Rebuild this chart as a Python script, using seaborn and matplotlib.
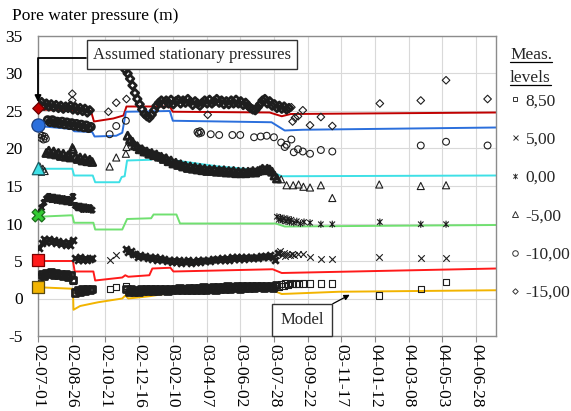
import pandas as pd
import matplotlib
matplotlib.use("Agg")
import matplotlib.pyplot as plt
import matplotlib.dates as mdates
from matplotlib.lines import Line2D
from matplotlib.path import Path
import seaborn as sns

START = pd.Timestamp("2002-07-01")
STEP = 4            # logger interval (days) in the dense parts of the record
END_DAY = 761

# ---- model curves (days after 2002-07-01, pressure in m) ----
model_m15_days = [0, 88, 93, 125, 142, 147, 219, 224, 385, 405, 420, 762]
model_m15_vals = [25.2, 25.0, 23.6, 24.0, 24.4, 25.6, 25.6, 24.9, 24.8, 24.3, 24.6, 24.8]
model_m10_days = [0, 57, 60, 90, 94, 130, 140, 146, 219, 224, 388, 410, 440, 762]
model_m10_vals = [23.0, 22.6, 22.3, 22.2, 21.6, 21.7, 22.1, 24.9, 25.0, 23.7, 23.5, 22.4, 22.5, 22.8]
model_m5_days = [0, 57, 60, 91, 95, 135, 139, 144, 148, 188, 192, 300, 385, 405, 762]
model_m5_vals = [17.3, 17.3, 16.4, 16.4, 15.5, 15.5, 16.2, 16.3, 18.4, 18.5, 18.8, 17.6, 17.0, 16.3, 16.4]
model_0_days = [0, 57, 60, 92, 95, 140, 148, 188, 192, 230, 236, 395, 410, 762]
model_0_vals = [10.9, 11.1, 10.1, 10.1, 9.2, 9.2, 10.6, 10.7, 11.2, 11.2, 10.0, 10.0, 9.6, 9.8]
model_5_days = [0, 58, 61, 92, 95, 140, 145, 150, 185, 190, 220, 225, 390, 405, 762]
model_5_vals = [5.0, 5.0, 3.6, 3.6, 2.4, 2.8, 3.1, 2.9, 3.1, 4.0, 4.1, 3.6, 3.9, 3.4, 4.0]
model_85_days = [0, 58, 59, 70, 100, 140, 145, 150, 185, 225, 390, 405, 500, 762]
model_85_vals = [1.5, 1.3, -1.5, -1.0, -0.5, 0.0, 0.4, 0.0, 0.3, 0.8, 1.1, 0.6, 0.9, 1.1]

# assumed stationary pressures at the start (-15, -10, -5, 0, 5, 8.5)
start_vals = [25.4, 23.1, 17.4, 11.1, 5.2, 1.6]

# ---- measurements ----
# level -15,00
m15_run_a = [25.9, 26.2, 25.7, 26.0, 25.6, 25.9, 25.5, 25.8, 25.4, 25.7, 25.3, 25.6, 25.4, 25.7,
             25.2, 25.5, 25.1, 25.4, 25.0, 25.3, 24.8, 25.1]
m15_run_b = [30.5, 30.0, 29.3, 28.4, 27.4, 26.6, 25.9, 25.2, 24.6, 24.3, 24.1, 24.5, 25.1, 25.7,
             26.1, 26.4, 25.9, 26.4, 26.0, 26.5, 25.9, 26.3, 26.5, 26.0, 26.4, 26.1, 26.6, 26.2,
             25.8, 26.3, 26.0, 25.7, 26.1, 26.4, 26.0, 26.5, 26.0, 26.3, 26.6, 26.1, 26.4, 25.9,
             26.3, 25.9, 26.4, 26.0, 26.5, 26.0, 26.3, 25.8, 26.1, 25.7, 25.4, 25.2, 25.1, 25.5,
             25.9, 26.4, 26.6, 26.0, 26.3, 25.7, 25.9, 25.4, 25.7, 25.3, 25.6, 25.2, 25.4]
m15_days = [57, 57, 117, 130, 147, 282, 421, 423, 427, 432, 440, 452, 470, 489, 568, 636, 678, 747]
m15_vals = [27.3, 26.4, 24.9, 26.1, 26.6, 24.5, 25.5, 23.6, 24.1, 24.3, 25.1, 23.1, 24.2, 23.0,
            26.0, 26.4, 29.1, 26.6]

# level -10,00
m10_run_a = [23.8, 23.5, 23.8, 23.4, 23.6, 23.3, 23.6, 23.2, 23.5, 23.1, 23.4, 23.0, 23.3, 22.9,
             23.2, 22.8, 23.1, 22.7, 22.9]
m10_days = [3, 5, 7, 9, 11, 13, 119, 130, 146, 265, 267, 269, 271, 287, 301, 323, 336, 359, 370,
            380, 392, 404, 410, 413, 421, 425, 432, 440, 452, 470, 489, 636, 678, 747]
m10_vals = [21.9, 21.4, 21.7, 21.2, 21.6, 21.3, 21.9, 23.0, 23.7, 22.2, 22.0, 22.3, 22.1, 21.9,
            21.8, 21.8, 21.8, 21.5, 21.6, 21.7, 21.5, 20.8, 20.2, 20.5, 21.2, 19.5, 19.9, 19.6,
            19.3, 19.8, 19.6, 20.4, 20.9, 20.4]

# level -5,00
m5_run_a = [19.4, 19.7, 19.3, 19.6, 19.2, 19.4, 19.0, 19.3, 18.9, 19.1, 18.8, 19.9, 18.9, 18.6,
            18.8, 18.4, 18.7, 18.3, 18.5, 18.2]
m5_run_b = [21.7, 21.2, 20.9, 20.4, 20.3, 19.9, 19.9, 19.6, 19.6, 19.3,
            19.4, 19.1, 19.2, 18.9, 18.9, 18.6, 18.7, 18.3, 18.4, 18.0,
            18.1, 17.8, 17.9, 17.6, 17.7, 17.4, 17.6, 17.3, 17.5, 17.2,
            17.4, 17.1, 17.3, 17.0, 17.2, 17.0, 17.2, 16.9, 17.1, 16.9,
            17.1, 16.8, 17.0, 16.8, 17.0, 16.7, 16.9, 16.7, 16.9, 16.7,
            16.9, 16.8, 17.0, 16.8, 17.0, 17.1, 17.3, 17.1, 17.3, 17.2,
            16.9, 16.4, 16.0]
m5_days = [3, 5, 8, 11, 57, 119, 130, 146, 147, 404, 413, 424, 433, 441, 452, 470, 489, 567, 636, 678]
m5_vals = [17.6, 16.9, 17.3, 17.0, 20.2, 17.6, 18.8, 19.3, 20.2, 15.9, 15.1, 15.1, 15.2, 14.9,
           14.8, 15.1, 13.4, 15.2, 15.0, 15.1]

# level 0,00
l0_run_a = [11.4, 12.1, 12.8, 13.3, 13.6, 13.2, 13.5, 13.1, 13.4, 13.0, 13.3, 12.9, 13.2, 12.8,
            13.6, 12.4, 12.1, 12.3, 11.9, 12.2, 11.9, 12.1, 11.8]
l0_days = [397, 400, 403, 406, 409, 412, 415, 418, 421, 425, 430, 436, 442, 452, 470, 489, 568, 636, 678]
l0_vals = [10.9, 10.5, 10.8, 10.4, 10.7, 10.3, 10.6, 10.2, 10.5, 10.1, 10.3, 10.0, 10.2, 10.1,
           9.9, 9.9, 10.2, 9.9, 9.9]

# level 5,00
l5_run_a = [6.8, 7.4, 7.9, 7.5, 7.9, 7.6, 7.8, 7.4, 7.7, 7.3, 7.6, 7.2, 7.5, 7.1, 7.8, 5.4, 5.2,
            5.5, 5.1, 5.4, 5.1, 5.3, 5.4]
l5_run_b = [6.6, 6.2, 6.4, 6.0, 5.9, 5.6, 5.8, 5.5, 5.7, 5.4,
            5.6, 5.3, 5.5, 5.2, 5.4, 5.1, 5.3, 5.0, 5.2, 4.9,
            5.1, 4.9, 5.1, 4.8, 5.0, 4.9, 5.1, 4.8, 5.0, 4.9,
            5.1, 4.9, 5.2, 5.0, 5.2, 5.0, 5.3, 5.1, 5.3, 5.1,
            5.4, 5.2, 5.4, 5.2, 5.5, 5.3, 5.5, 5.3, 5.5, 5.3,
            5.6, 5.4, 5.6, 5.4, 5.6, 5.4, 5.7, 5.5, 5.7, 5.5,
            5.8, 5.6, 5.1, 6.1]
l5_days = [119, 130, 402, 405, 408, 411, 414, 418, 422, 426, 432, 440, 452, 470, 489, 567, 636, 678]
l5_vals = [5.2, 5.8, 6.3, 5.8, 6.1, 5.7, 6.0, 5.8, 6.0, 5.8, 5.9, 6.0, 5.6, 5.3, 5.3, 5.6, 5.4, 5.4]

# level 8,50
l85_run_a = [2.8, 3.2, 3.0, 3.4, 3.3, 3.5, 3.2, 3.4, 3.1, 3.3, 3.0, 3.2, 2.9, 3.1, 2.5, 0.8, 1.1,
             0.9, 1.2, 1.0, 1.3, 1.1, 1.3]
l85_run_b = [1.3, 0.9, 1.2, 0.9, 1.1, 0.9, 1.2, 1.0, 1.2, 1.0,
             1.3, 1.0, 1.2, 1.0, 1.3, 1.1, 1.3, 1.0, 1.3, 1.1,
             1.3, 1.1, 1.4, 1.1, 1.3, 1.2, 1.4, 1.1, 1.4, 1.2,
             1.4, 1.2, 1.5, 1.2, 1.4, 1.3, 1.5, 1.2, 1.5, 1.3,
             1.5, 1.3, 1.6, 1.3, 1.5, 1.4, 1.6, 1.3, 1.6, 1.4,
             1.6, 1.4, 1.7, 1.4, 1.6, 1.5, 1.7, 1.4, 1.7, 1.5,
             1.6, 1.4, 1.8]
l85_days = [58, 119, 130, 146, 401, 404, 408, 411, 415, 419, 423, 428, 433, 440, 452, 470, 489,
            567, 636, 678]
l85_vals = [2.4, 1.3, 1.5, 1.7, 1.6, 1.9, 1.7, 2.0, 1.8, 2.1, 1.9, 2.0, 1.9, 2.0, 2.0, 2.0, 2.0,
            0.4, 1.3, 2.2]

level_labels = ["8,50", "5,00", "0,00", "-5,00", "-10,00", "-15,00"]


def dates(days):
    return START + pd.to_timedelta(days, unit="D")


def logged(runs):
    # continuous logger runs, one reading every STEP days from the run's start day
    parts = []
    for start_day, values in runs:
        idx = pd.date_range(START + pd.Timedelta(days=start_day), periods=len(values),
                            freq=f"{STEP}D")
        parts.append(pd.Series(values, index=idx))
    return pd.concat(parts)


ASTER = Path([(-1, -1), (1, 1), (-1, 1), (1, -1), (0, -1.3), (0, 1.3)],
             [Path.MOVETO, Path.LINETO] * 3)

# (logger runs, manual readings, marker, size, filled, legend marker size)
meas = [
    (logged([(2, l85_run_a), (147, l85_run_b)]), pd.Series(l85_vals, index=dates(l85_days)), "s", 20, True, 3.4),
    (logged([(2, l5_run_a), (146, l5_run_b)]), pd.Series(l5_vals, index=dates(l5_days)), "x", 22, False, 3.6),
    (logged([(2, l0_run_a)]), pd.Series(l0_vals, index=dates(l0_days)), ASTER, 26, True, 4.0),
    (logged([(14, m5_run_a), (149, m5_run_b)]), pd.Series(m5_vals, index=dates(m5_days)), "^", 26, True, 4.0),
    (logged([(16, m10_run_a)]), pd.Series(m10_vals, index=dates(m10_days)), "o", 24, True, 4.0),
    (logged([(2, m15_run_a), (145, m15_run_b)]), pd.Series(m15_vals, index=dates(m15_days)), "D", 15, True, 2.8),
]

models = [
    (model_m15_days, model_m15_vals, "#c00000"),
    (model_m10_days, model_m10_vals, "#2b6fdc"),
    (model_m5_days, model_m5_vals, "#3ee0e6"),
    (model_0_days, model_0_vals, "#70e070"),
    (model_5_days, model_5_vals, "#ff1a1a"),
    (model_85_days, model_85_vals, "#f2b400"),
]

# start markers: marker, size, face, edge (same order as start_vals)
start_style = [("D", 34, "#c00000", "#6a0000"), ("o", 90, "#2b6fdc", "#1a3f80"),
               ("^", 80, "#3ee0e6", "#1f5f66"), ("X", 85, "#33cc33", "#1a6a1a"),
               ("s", 85, "#ff1a1a", "#7a0000"), ("s", 85, "#f2b400", "#5a4a10")]

sns.set_theme(style="whitegrid")
plt.rcParams["font.family"] = ["Liberation Serif", "DejaVu Serif"]
plt.rcParams["font.size"] = 12.5
plt.rcParams["axes.unicode_minus"] = False

fig = plt.figure(figsize=(5.71, 4.11), dpi=100)
ax = fig.add_axes([38 / 571, 1 - 336 / 411, 458 / 571, 300 / 411])

for days, vals, col in models:
    sns.lineplot(x=dates(days), y=vals, color=col, linewidth=1.4, ax=ax,
                 estimator=None, sort=False, zorder=2)

for runs, manual, mk, size, filled, _ in meas:
    for ser, lw in ((runs, 2.0), (manual, 0.8)):
        if filled:
            kw = dict(facecolors="none", edgecolor="#1e1e1e")
        else:
            kw = dict(color="#1e1e1e", edgecolor=None)
        sns.scatterplot(x=ser.index, y=ser.values, marker=mk, s=size, linewidth=lw,
                        ax=ax, zorder=3, **kw)

for v, (mk, size, fc, ec) in zip(start_vals, start_style):
    sns.scatterplot(x=[START], y=[v], marker=mk, s=size, color=fc, edgecolor=ec,
                    linewidth=0.9, ax=ax, zorder=6, clip_on=False)

ax.set_xlim(START, START + pd.Timedelta(days=END_DAY))
ax.set_ylim(-5, 35)
ax.set_yticks(range(-5, 36, 5))
ax.set_xticks(pd.date_range("2002-07-01", "2004-06-28", freq="56D"))
ax.xaxis.set_major_formatter(mdates.DateFormatter("%y-%m-%d"))
ax.set_xlabel("")
ax.set_ylabel("")
ax.tick_params(axis="x", bottom=True, length=4, width=0.8, color="#888888", pad=2,
               labelrotation=270, labelcolor="black", labelsize=12.5)
ax.tick_params(axis="y", left=False, length=0, pad=11, labelcolor="black", labelsize=12.5)
ax.grid(True, color="#d9d9d9", linewidth=0.8)
for sp in ax.spines.values():
    sp.set_color("#8c8c8c")
    sp.set_linewidth(1.0)

fig.text(12 / 571, 1 - 16 / 411, "Pore water pressure (m)", ha="left", va="center",
         fontsize=12.5, color="black")

x_box = mdates.date2num(START + pd.Timedelta(days=256))
ax.annotate("Assumed stationary pressures", xy=(mdates.date2num(START), 26.2),
            xytext=(x_box, 32.5), ha="center", va="center", fontsize=12, zorder=7,
            bbox=dict(boxstyle="square,pad=0.38", fc="white", ec="#333333", lw=1.0),
            arrowprops=dict(arrowstyle="-|>", color="black", lw=1.3, mutation_scale=9,
                            connectionstyle="angle,angleA=0,angleB=90,rad=0",
                            relpos=(0, 0.3), shrinkA=0, shrinkB=0),
            annotation_clip=False)

ax.annotate("Model", xy=(mdates.date2num(START + pd.Timedelta(days=518)), 0.5),
            xytext=(mdates.date2num(START + pd.Timedelta(days=439)), -2.87),
            ha="center", va="center", fontsize=12, zorder=7,
            bbox=dict(boxstyle="square,pad=0.5", fc="white", ec="#333333", lw=1.0),
            arrowprops=dict(arrowstyle="-|>", color="black", lw=0.9, mutation_scale=8,
                            shrinkA=0, shrinkB=0))

handles = [Line2D([], [], linestyle="none", marker=mk, markersize=ms, markerfacecolor="none",
                  markeredgecolor="#333333", color="#333333", markeredgewidth=0.7)
           for _, _, mk, _, _, ms in meas]
fig.legend(handles, level_labels, loc="upper left", bbox_to_anchor=(509 / 571, 1 - 93 / 411),
           bbox_transform=fig.transFigure, frameon=False, fontsize=12.5, labelspacing=1.28,
           handlelength=0.7, handletextpad=0.25, borderpad=0, borderaxespad=0)

t1 = fig.text(510 / 571, 1 - 55 / 411, "Meas.", ha="left", va="center", fontsize=12.5)
t2 = fig.text(510 / 571, 1 - 78 / 411, "levels", ha="left", va="center", fontsize=12.5)
fig.canvas.draw()
rend = fig.canvas.get_renderer()
for t in (t1, t2):
    bb = t.get_window_extent(rend).transformed(fig.transFigure.inverted())
    fig.add_artist(Line2D([bb.x0, bb.x1], [bb.y0 + 0.002] * 2, transform=fig.transFigure,
                          color="black", linewidth=0.9))

fig.savefig("out.png", dpi=100)
